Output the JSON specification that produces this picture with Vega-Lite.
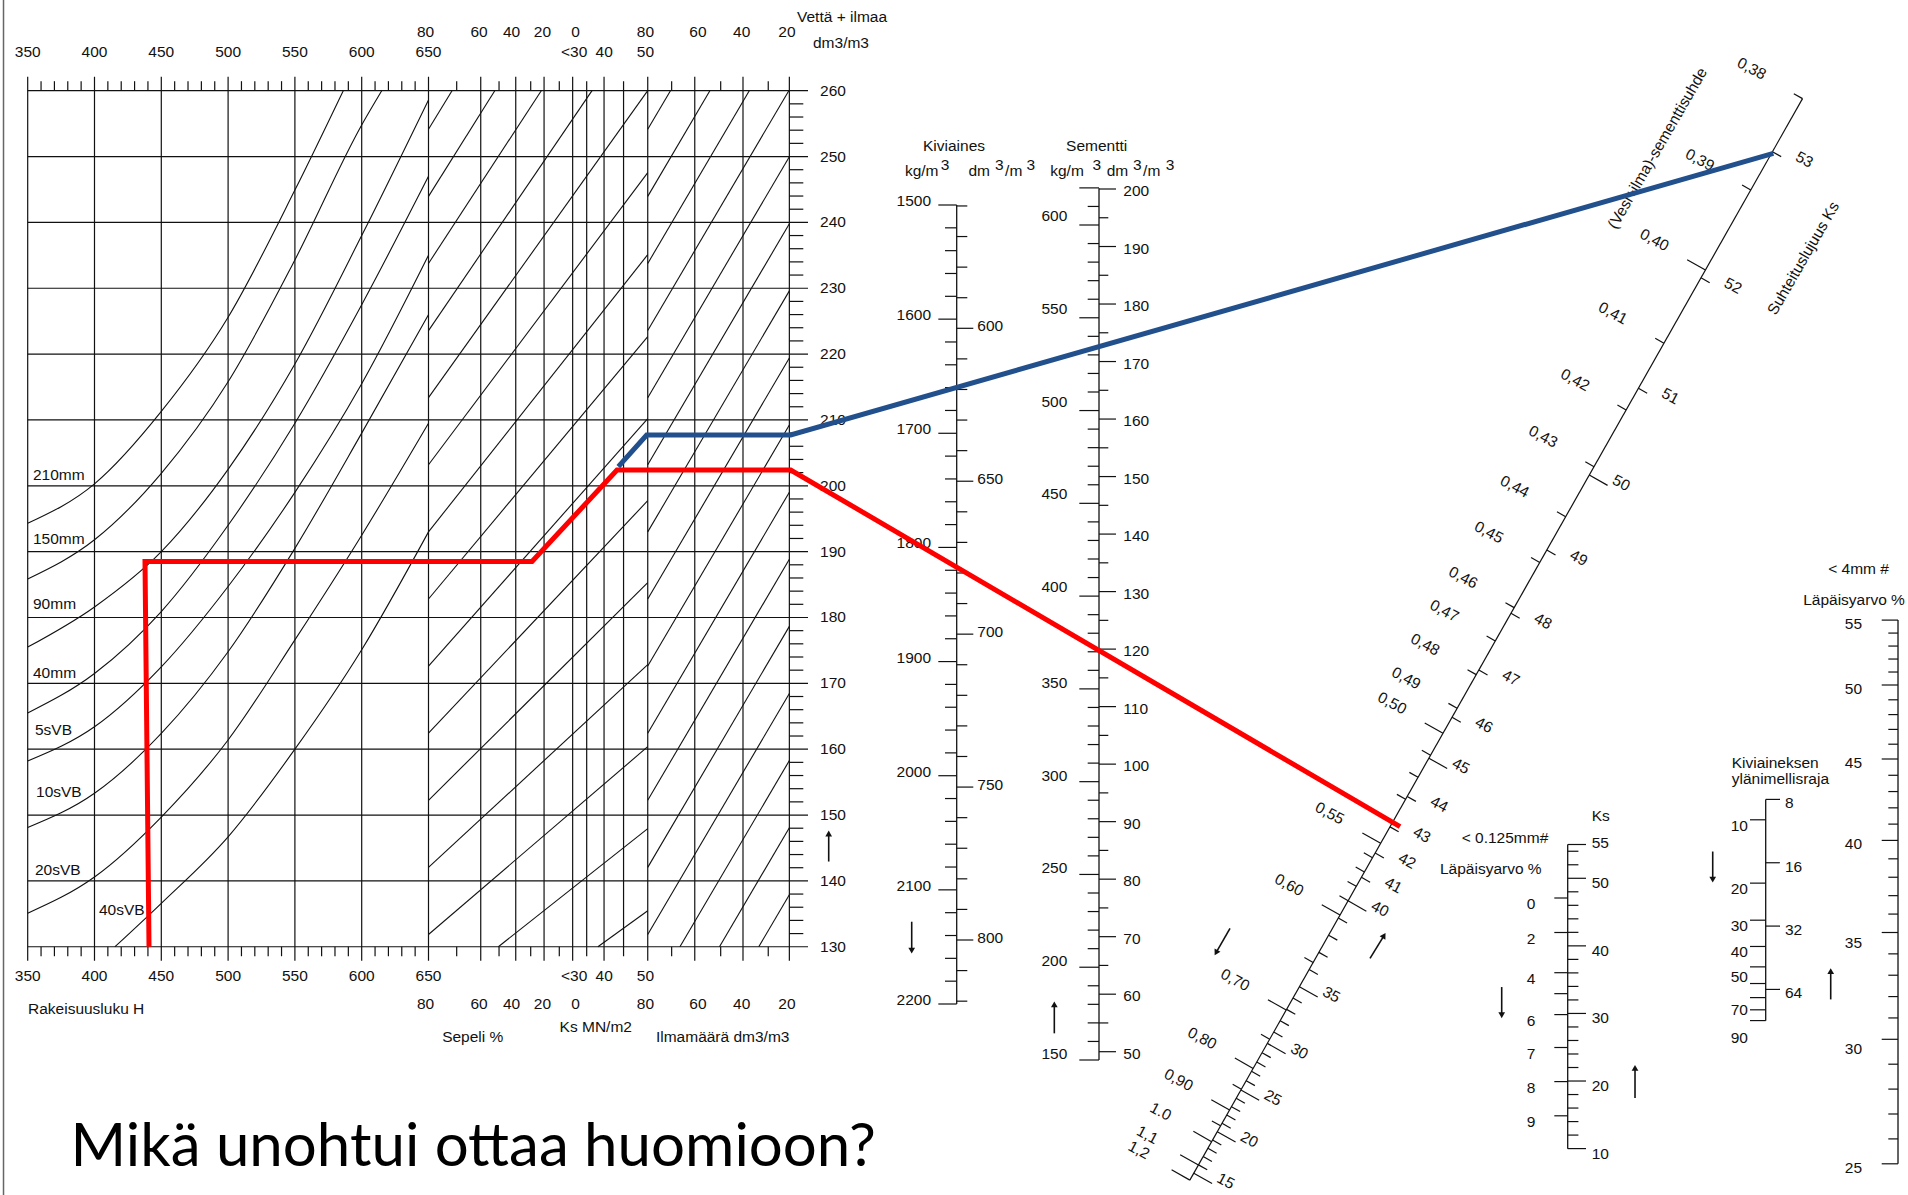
{
"$schema":"https://vega.github.io/schema/vega-lite/v6.json",
"width":1908,"height":1195,"autosize":{"type":"none"},"padding":0,"background":"white",
"config":{"view":{"stroke":null},"text":{"font":"Liberation Sans","fontSize":15.5,"fill":"#111"},"rule":{"color":"#111"},"line":{"color":"#111"}},
"resolve":{"scale":{"x":"independent","y":"independent"}},
"datasets":{
"vlong":[350,400,450,500,550,600,650,689.1,715.3,736.5,757.9,781.4,814.1,849.3,885.4,920.1],
"vmid":[768.4,796],
"hmin":[360,370,380,390,410,420,430,440,460,470,480,490,510,520,530,540,560,570,580,590,610,620,630,640,671.1,702.8,726.5,747.9,832,868.7,904.3],
"wgrid":[130,140,150,160,170,180,190,200,210,220,230,240,250,260],
"wmin":[132,134,136,138,142,144,146,148,152,154,156,158,162,164,166,168,172,174,176,178,182,184,186,188,192,194,196,198,202,204,206,208,212,214,216,218,222,224,226,228,232,234,236,238,242,244,246,248,252,254,256,258],
"curves":[
{"c":1,"h":350,"w":194.3},{"c":1,"h":400,"w":200.3},{"c":1,"h":450,"w":211.3},{"c":1,"h":500,"w":225.6},{"c":1,"h":550,"w":244.9},{"c":1,"h":586.2,"w":260},
{"c":2,"h":350,"w":185.85},{"c":2,"h":400,"w":191.8},{"c":2,"h":450,"w":201.9},{"c":2,"h":500,"w":215.8},{"c":2,"h":550,"w":234.3},{"c":2,"h":600,"w":254.8},{"c":2,"h":615,"w":260},
{"c":3,"h":350,"w":175.5},{"c":3,"h":400,"w":181.6},{"c":3,"h":450,"w":190},{"c":3,"h":500,"w":202.5},{"c":3,"h":550,"w":218.5},{"c":3,"h":600,"w":238},{"c":3,"h":650,"w":258.6},
{"c":4,"h":350,"w":165.5},{"c":4,"h":400,"w":171.5},{"c":4,"h":450,"w":180.9},{"c":4,"h":500,"w":194},{"c":4,"h":550,"w":209.5},{"c":4,"h":600,"w":227.5},{"c":4,"h":650,"w":247},
{"c":5,"h":350,"w":158.2},{"c":5,"h":400,"w":163.4},{"c":5,"h":450,"w":172.5},{"c":5,"h":500,"w":184.7},{"c":5,"h":550,"w":199},{"c":5,"h":600,"w":215.5},{"c":5,"h":650,"w":235},
{"c":6,"h":350,"w":148.1},{"c":6,"h":400,"w":153.3},{"c":6,"h":450,"w":162.4},{"c":6,"h":500,"w":174.8},{"c":6,"h":550,"w":190.5},{"c":6,"h":600,"w":208},{"c":6,"h":650,"w":226},
{"c":7,"h":350,"w":135.1},{"c":7,"h":400,"w":140.6},{"c":7,"h":450,"w":149.7},{"c":7,"h":500,"w":161.4},{"c":7,"h":550,"w":176.6},{"c":7,"h":600,"w":192.5},{"c":7,"h":650,"w":209.5},
{"c":8,"h":415.3,"w":130},{"c":8,"h":450,"w":136.6},{"c":8,"h":500,"w":146.7},{"c":8,"h":550,"w":160},{"c":8,"h":600,"w":175.1},{"c":8,"h":650,"w":193}],
"slants":[
{"h1":650,"w1":254.14,"h2":667.6,"w2":260},{"h1":650,"w1":243.95,"h2":699.6,"w2":260},{"h1":650,"w1":233.76,"h2":734.4,"w2":260},{"h1":650,"w1":223.57,"h2":772.4,"w2":260},{"h1":650,"w1":213.38,"h2":814.1,"w2":260},{"h1":650,"w1":203.19,"h2":814.1,"w2":247.55},{"h1":650,"w1":193,"h2":814.1,"w2":235.1},{"h1":650,"w1":182.81,"h2":814.1,"w2":222.64},{"h1":650,"w1":172.62,"h2":814.1,"w2":210.19},{"h1":650,"w1":162.43,"h2":814.1,"w2":197.74},{"h1":650,"w1":152.24,"h2":814.1,"w2":185.28},{"h1":650,"w1":142.05,"h2":814.1,"w2":172.83},{"h1":650,"w1":131.86,"h2":814.1,"w2":160.38},{"h1":702.3,"w1":130,"h2":814.1,"w2":147.93},{"h1":776.8,"w1":130,"h2":814.1,"w2":135.47},
{"h1":814.1,"w1":254.14,"h2":831.1,"w2":260},{"h1":814.1,"w1":243.95,"h2":860.6,"w2":260},{"h1":814.1,"w1":233.76,"h2":890.1,"w2":260},{"h1":814.1,"w1":223.57,"h2":919.7,"w2":260},{"h1":814.1,"w1":213.38,"h2":920.1,"w2":249.98},{"h1":814.1,"w1":203.19,"h2":920.1,"w2":239.79},{"h1":814.1,"w1":193,"h2":920.1,"w2":229.6},{"h1":814.1,"w1":182.81,"h2":920.1,"w2":219.41},{"h1":814.1,"w1":172.62,"h2":920.1,"w2":209.22},{"h1":814.1,"w1":162.43,"h2":920.1,"w2":199.03},{"h1":814.1,"w1":152.24,"h2":920.1,"w2":188.84},{"h1":814.1,"w1":142.05,"h2":920.1,"w2":178.65},{"h1":814.1,"w1":131.86,"h2":920.1,"w2":168.46},{"h1":838.2,"w1":130,"h2":920.1,"w2":158.27},{"h1":867.8,"w1":130,"h2":920.1,"w2":148.08},{"h1":897.2,"w1":130,"h2":920.1,"w2":137.89}],
"axl":[{"h":1045.36,"w1":242.64,"w2":121.3},{"h":1151.87,"w1":245.17,"w2":112.8},{"h":1502.69,"w1":145.52,"w2":99.34},{"h":1650.89,"w1":152.37,"w2":118.78},{"h":1749.92,"w1":179.6,"w2":97.04}],
"kivkg":[1500,1520,1540,1560,1580,1600,1620,1640,1660,1680,1700,1720,1740,1760,1780,1800,1820,1840,1860,1880,1900,1920,1940,1960,1980,2000,2020,2040,2060,2080,2100,2120,2140,2160,2180,2200],
"kivdm":[560,570,580,590,600,610,620,630,640,650,660,670,680,690,700,710,720,730,740,750,760,770,780,790,800,810,820],
"semkg":[150,160,170,180,190,200,210,220,230,240,250,260,270,280,290,300,310,320,330,340,350,360,370,380,390,400,410,420,430,440,450,460,470,480,490,500,510,520,530,540,550,560,570,580,590,600,610,620],
"semdm":[50,55,60,65,70,75,80,85,90,95,100,105,110,115,120,125,130,135,140,145,150,155,160,165,170,175,180,185,190,195,200],
"sks":[10,12,14,16,18,20,22,24,26,28,30,32,34,36,38,40,42,44,46,48,50,52,54,55],
"lp":[0,2,4,5,6,7,8,9],
"yl":[{"v":10,"s":"L"},{"v":20,"s":"L"},{"v":30,"s":"L"},{"v":40,"s":"L"},{"v":50,"s":"L"},{"v":60,"s":"L"},{"v":70,"s":"L"},{"v":80,"s":"L"},{"v":90,"s":"L"},{"v":8,"s":"R"},{"v":16,"s":"R"},{"v":32,"s":"R"},{"v":64,"s":"R"}],
"p4":[25,26,27,28,29,30,31,32,33,34,35,36,37,38,39,40,41,42,43,44,45,46,47,48,49,50,51,52,53,54,55],
"dks":[15,16,17,18,19,20,21,22,23,24,25,26,27,28,29,30,31,32,33,34,35,36,37,38,39,40,41,42,43,44,45,46,47,48,49,50,51,52,53],
"dwc":[{"v":0.38,"lab":"0,38"},{"v":0.39,"lab":"0,39"},{"v":0.4,"lab":"0,40"},{"v":0.41,"lab":"0,41"},{"v":0.42,"lab":"0,42"},{"v":0.43,"lab":"0,43"},{"v":0.44,"lab":"0,44"},{"v":0.45,"lab":"0,45"},{"v":0.46,"lab":"0,46"},{"v":0.47,"lab":"0,47"},{"v":0.48,"lab":"0,48"},{"v":0.49,"lab":"0,49"},{"v":0.5,"lab":"0,50"},{"v":0.51},{"v":0.52},{"v":0.53},{"v":0.54},{"v":0.55,"lab":"0,55"},{"v":0.56},{"v":0.57},{"v":0.58},{"v":0.59},{"v":0.6,"lab":"0,60"},{"v":0.65},{"v":0.7,"lab":"0,70"},{"v":0.75},{"v":0.8,"lab":"0,80"},{"v":0.85},{"v":0.9,"lab":"0,90"},{"v":0.95},{"v":1,"lab":"1.0"},{"v":1.1,"lab":"1,1"},{"v":1.2,"lab":"1,2"}],
"labc":[
{"h":350,"w":265.85,"t":"350"},{"h":400,"w":265.85,"t":"400"},{"h":450,"w":265.85,"t":"450"},{"h":500,"w":265.85,"t":"500"},{"h":550,"w":265.85,"t":"550"},{"h":600,"w":265.85,"t":"600"},{"h":650,"w":265.85,"t":"650"},{"h":759,"w":265.85,"t":"<30"},{"h":781.5,"w":265.85,"t":"40"},{"h":812.4,"w":265.85,"t":"50"},
{"h":647.8,"w":268.95,"t":"80"},{"h":687.8,"w":268.95,"t":"60"},{"h":712.2,"w":268.95,"t":"40"},{"h":735.3,"w":268.95,"t":"20"},{"h":760,"w":268.95,"t":"0"},{"h":812.4,"w":268.95,"t":"80"},{"h":851.7,"w":268.95,"t":"60"},{"h":884.4,"w":268.95,"t":"40"},{"h":918.3,"w":268.95,"t":"20"},
{"h":350,"w":125.57,"t":"350"},{"h":400,"w":125.57,"t":"400"},{"h":450,"w":125.57,"t":"450"},{"h":500,"w":125.57,"t":"500"},{"h":550,"w":125.57,"t":"550"},{"h":600,"w":125.57,"t":"600"},{"h":650,"w":125.57,"t":"650"},{"h":759,"w":125.57,"t":"<30"},{"h":781.5,"w":125.57,"t":"40"},{"h":812.4,"w":125.57,"t":"50"},
{"h":647.8,"w":121.31,"t":"80"},{"h":687.8,"w":121.31,"t":"60"},{"h":712.2,"w":121.31,"t":"40"},{"h":735.3,"w":121.31,"t":"20"},{"h":760,"w":121.31,"t":"0"},{"h":812.4,"w":121.31,"t":"80"},{"h":851.7,"w":121.31,"t":"60"},{"h":884.4,"w":121.31,"t":"40"},{"h":918.3,"w":121.31,"t":"20"},
{"h":683.1,"w":116.34,"t":"Sepeli %"},{"h":775.2,"w":117.86,"t":"Ks MN/m2"},{"h":870.2,"w":116.34,"t":"Ilmamäärä dm3/m3"},
{"h":1043.33,"w":251.6,"t":"Kiviaines"},{"h":1150.14,"w":251.6,"t":"Sementti"},
{"h":1019.16,"w":247.85,"t":"kg/m"},{"h":1062.2,"w":247.85,"t":"dm"},{"h":1088.02,"w":247.85,"t":"/m"},{"h":1127.92,"w":247.85,"t":"kg/m"},{"h":1165.72,"w":247.85,"t":"dm"},{"h":1191.32,"w":247.85,"t":"/m"},
{"h":1036.6,"w":248.71,"t":"3"},{"h":1077.25,"w":248.71,"t":"3"},{"h":1100.75,"w":248.71,"t":"3"},{"h":1150.15,"w":248.71,"t":"3"},{"h":1180.54,"w":248.71,"t":"3"},{"h":1205.02,"w":248.71,"t":"3"},
{"h":1527.39,"w":149.78,"t":"Ks"},{"h":1455.76,"w":146.47,"t":"< 0.125mm#"},{"h":1445.13,"w":141.77,"t":"Läpäisyarvo %"},{"h":1720.36,"w":187.29,"t":"< 4mm #"},{"h":1716.99,"w":182.65,"t":"Läpäisyarvo %"}],
"labl":[
{"h":353.97,"w":201.64,"t":"210mm"},{"h":353.97,"w":191.87,"t":"150mm"},{"h":353.97,"w":182,"t":"90mm"},{"h":353.97,"w":171.61,"t":"40mm"},{"h":355.47,"w":162.91,"t":"5sVB"},{"h":356.22,"w":153.54,"t":"10sVB"},{"h":355.47,"w":141.65,"t":"20sVB"},{"h":403.37,"w":135.58,"t":"40sVB"},
{"h":350.23,"w":120.54,"t":"Rakeisuusluku H"},{"h":925.82,"w":271.19,"t":"Vettä + ilmaa"},{"h":937.8,"w":267.24,"t":"dm3/m3"},
{"h":943.05,"w":260,"t":"260"},{"h":943.05,"w":250,"t":"250"},{"h":943.05,"w":240,"t":"240"},{"h":943.05,"w":230,"t":"230"},{"h":943.05,"w":220,"t":"220"},{"h":943.05,"w":210,"t":"210"},{"h":943.05,"w":200,"t":"200"},{"h":943.05,"w":190,"t":"190"},{"h":943.05,"w":180,"t":"180"},{"h":943.05,"w":170,"t":"170"},{"h":943.05,"w":160,"t":"160"},{"h":943.05,"w":150,"t":"150"},{"h":943.05,"w":140,"t":"140"},{"h":943.05,"w":130,"t":"130"},
{"h":1625.45,"w":157.89,"t":"Kiviaineksen"},{"h":1625.45,"w":155.52,"t":"ylänimellisraja"}],
"rot":[{"h":1569.91,"w":251.25,"t":"(Vesi+ilma)-sementtisuhde"},{"h":1679.04,"w":234.54,"t":"Suhteituslujuus Ks"}],
"arrows":[{"h1":1011.68,"w1":133.8,"h2":1011.68,"w2":129.4,"a":180},{"h1":1118.42,"w1":116.85,"h2":1118.42,"w2":121.25,"a":0},{"h1":949.55,"w1":142.94,"h2":949.55,"w2":147.2,"a":0},{"h1":1453.29,"w1":123.88,"h2":1453.29,"w2":119.6,"a":180},{"h1":1553.07,"w1":107.03,"h2":1553.07,"w2":111.6,"a":0},{"h1":1611.23,"w1":144.46,"h2":1611.23,"w2":140.2,"a":180},{"h1":1699.55,"w1":122,"h2":1699.55,"w2":126.3,"a":0},{"h1":1249.93,"w1":132.8,"h2":1239.5,"w2":129.1,"a":209},{"h1":1354.72,"w1":128.24,"h2":1365.2,"w2":131.7,"a":31}],
"red":[{"o":1,"h":440.8,"w":130},{"o":2,"h":437.8,"w":188.5},{"o":3,"h":727.5,"w":188.5},{"o":4,"h":791.1,"w":202.4},{"o":5,"h":921.1,"w":202.4},{"o":6,"h":1377.2,"w":148.23}],
"blue":[{"o":1,"h":792.1,"w":202.9},{"o":2,"h":813.3,"w":207.71},{"o":3,"h":921.1,"w":207.71},{"o":4,"h":1656.6,"w":250.49}],
"title":[{"h":382.11,"w":96.7,"t":"Mikä unohtui ottaa huomioon?"}]
},
"layer":[
{"data":{"values":[{}]},"mark":{"type":"rule","strokeWidth":1.5,"color":"#666"},"encoding":{"x":{"datum":331.9,"type":"quantitative","scale":{"domain":[329.27,1757.4],"nice":false,"zero":false},"axis":null}}},
{"data":{"name":"vlong"},"mark":{"type":"rule","strokeWidth":1.2},"encoding":{"x":{"field":"data","type":"quantitative","scale":{"domain":[329.27,1757.4],"nice":false,"zero":false},"axis":null},"y":{"datum":127.87,"type":"quantitative","scale":{"domain":[92.3,273.77],"nice":false,"zero":false},"axis":null},"y2":{"datum":262.13}}},
{"data":{"name":"vmid"},"mark":{"type":"rule","strokeWidth":1.2},"encoding":{"x":{"field":"data","type":"quantitative","scale":{"domain":[329.27,1757.4],"nice":false,"zero":false},"axis":null},"y":{"datum":128.56,"type":"quantitative","scale":{"domain":[92.3,273.77],"nice":false,"zero":false},"axis":null},"y2":{"datum":261.44}}},
{"data":{"name":"hmin"},"mark":{"type":"rule","strokeWidth":1.2},"encoding":{"x":{"field":"data","type":"quantitative","scale":{"domain":[329.27,1757.4],"nice":false,"zero":false},"axis":null},"y":{"datum":260,"type":"quantitative","scale":{"domain":[92.3,273.77],"nice":false,"zero":false},"axis":null},"y2":{"datum":261.44}}},
{"data":{"name":"hmin"},"mark":{"type":"rule","strokeWidth":1.2},"encoding":{"x":{"field":"data","type":"quantitative","scale":{"domain":[329.27,1757.4],"nice":false,"zero":false},"axis":null},"y":{"datum":128.56,"type":"quantitative","scale":{"domain":[92.3,273.77],"nice":false,"zero":false},"axis":null},"y2":{"datum":130}}},
{"data":{"name":"wgrid"},"mark":{"type":"rule","strokeWidth":1.2},"encoding":{"y":{"field":"data","type":"quantitative","scale":{"domain":[92.3,273.77],"nice":false,"zero":false},"axis":null},"x":{"datum":350,"type":"quantitative","scale":{"domain":[329.27,1757.4],"nice":false,"zero":false},"axis":null},"x2":{"datum":934.05}}},
{"data":{"name":"wmin"},"mark":{"type":"rule","strokeWidth":1.2},"encoding":{"y":{"field":"data","type":"quantitative","scale":{"domain":[92.3,273.77],"nice":false,"zero":false},"axis":null},"x":{"datum":920.1,"type":"quantitative","scale":{"domain":[329.27,1757.4],"nice":false,"zero":false},"axis":null},"x2":{"datum":930.54}}},
{"data":{"name":"slants"},"mark":{"type":"rule","strokeWidth":1.1},"encoding":{"x":{"field":"h1","type":"quantitative","scale":{"domain":[329.27,1757.4],"nice":false,"zero":false},"axis":null},"y":{"field":"w1","type":"quantitative","scale":{"domain":[92.3,273.77],"nice":false,"zero":false},"axis":null},"x2":{"field":"h2"},"y2":{"field":"w2"}}},
{"data":{"name":"curves"},"mark":{"type":"line","strokeWidth":1.1,"interpolate":"monotone"},"encoding":{"x":{"field":"h","type":"quantitative","scale":{"domain":[329.27,1757.4],"nice":false,"zero":false},"axis":null},"y":{"field":"w","type":"quantitative","scale":{"domain":[92.3,273.77],"nice":false,"zero":false},"axis":null},"detail":{"field":"c","type":"nominal"}}},
{"data":{"name":"axl"},"mark":{"type":"rule","strokeWidth":1.3},"encoding":{"x":{"field":"h","type":"quantitative","scale":{"domain":[329.27,1757.4],"nice":false,"zero":false},"axis":null},"y":{"field":"w1","type":"quantitative","scale":{"domain":[92.3,273.77],"nice":false,"zero":false},"axis":null},"y2":{"field":"w2"}}},

{"data":{"name":"kivkg"},"transform":[{"filter":"datum.data % 100 == 0"}],"mark":{"type":"rule","strokeWidth":1.2},"encoding":{"y":{"field":"data","type":"quantitative","scale":{"domain":[1500,2200],"range":[205,1004],"nice":false,"zero":false},"axis":null},"x":{"datum":1031.59,"type":"quantitative","scale":{"domain":[329.27,1757.4],"nice":false,"zero":false},"axis":null},"x2":{"datum":1045.36}}},
{"data":{"name":"kivkg"},"transform":[{"filter":"datum.data % 100 != 0"}],"mark":{"type":"rule","strokeWidth":1.2},"encoding":{"y":{"field":"data","type":"quantitative","scale":{"domain":[1500,2200],"range":[205,1004],"nice":false,"zero":false},"axis":null},"x":{"datum":1036.6,"type":"quantitative","scale":{"domain":[329.27,1757.4],"nice":false,"zero":false},"axis":null},"x2":{"datum":1045.36}}},
{"data":{"name":"kivkg"},"transform":[{"filter":"datum.data % 100 == 0"}],"mark":{"type":"text","align":"right","baseline":"middle","dy":-4},"encoding":{"y":{"field":"data","type":"quantitative","scale":{"domain":[1500,2200],"range":[205,1004],"nice":false,"zero":false},"axis":null},"x":{"datum":1026.14,"type":"quantitative","scale":{"domain":[329.27,1757.4],"nice":false,"zero":false},"axis":null},"text":{"field":"data","type":"nominal"}}},
{"data":{"name":"kivdm"},"transform":[{"filter":"datum.data % 50 == 0"}],"mark":{"type":"rule","strokeWidth":1.2},"encoding":{"y":{"field":"data","type":"quantitative","scale":{"domain":[600,800],"range":[328.3,940],"nice":false,"zero":false},"axis":null},"x":{"datum":1045.36,"type":"quantitative","scale":{"domain":[329.27,1757.4],"nice":false,"zero":false},"axis":null},"x2":{"datum":1057.78}}},
{"data":{"name":"kivdm"},"transform":[{"filter":"datum.data % 50 != 0"}],"mark":{"type":"rule","strokeWidth":1.2},"encoding":{"y":{"field":"data","type":"quantitative","scale":{"domain":[600,800],"range":[328.3,940],"nice":false,"zero":false},"axis":null},"x":{"datum":1045.36,"type":"quantitative","scale":{"domain":[329.27,1757.4],"nice":false,"zero":false},"axis":null},"x2":{"datum":1053.29}}},
{"data":{"name":"kivdm"},"transform":[{"filter":"datum.data % 50 == 0"}],"mark":{"type":"text","align":"left","baseline":"middle","dy":-2},"encoding":{"y":{"field":"data","type":"quantitative","scale":{"domain":[600,800],"range":[328.3,940],"nice":false,"zero":false},"axis":null},"x":{"datum":1060.79,"type":"quantitative","scale":{"domain":[329.27,1757.4],"nice":false,"zero":false},"axis":null},"text":{"field":"data","type":"nominal"}}},
{"data":{"name":"semkg"},"transform":[{"filter":"datum.data % 50 == 0 || datum.data == 620"}],"mark":{"type":"rule","strokeWidth":1.2},"encoding":{"y":{"field":"data","type":"quantitative","scale":{"domain":[150,600],"range":[1060,225],"nice":false,"zero":false},"axis":null},"x":{"datum":1137.13,"type":"quantitative","scale":{"domain":[329.27,1757.4],"nice":false,"zero":false},"axis":null},"x2":{"datum":1151.87}}},
{"data":{"name":"semkg"},"transform":[{"filter":"datum.data % 50 != 0 && datum.data != 620"}],"mark":{"type":"rule","strokeWidth":1.2},"encoding":{"y":{"field":"data","type":"quantitative","scale":{"domain":[150,600],"range":[1060,225],"nice":false,"zero":false},"axis":null},"x":{"datum":1143.41,"type":"quantitative","scale":{"domain":[329.27,1757.4],"nice":false,"zero":false},"axis":null},"x2":{"datum":1151.87}}},
{"data":{"name":"semkg"},"transform":[{"filter":"datum.data % 50 == 0 && datum.data >= 400"}],"mark":{"type":"text","align":"right","baseline":"middle","dy":-9},"encoding":{"y":{"field":"data","type":"quantitative","scale":{"domain":[150,600],"range":[1060,225],"nice":false,"zero":false},"axis":null},"x":{"datum":1128.14,"type":"quantitative","scale":{"domain":[329.27,1757.4],"nice":false,"zero":false},"axis":null},"text":{"field":"data","type":"nominal"}}},
{"data":{"name":"semkg"},"transform":[{"filter":"datum.data % 50 == 0 && datum.data < 400"}],"mark":{"type":"text","align":"right","baseline":"middle","dy":-6},"encoding":{"y":{"field":"data","type":"quantitative","scale":{"domain":[150,600],"range":[1060,225],"nice":false,"zero":false},"axis":null},"x":{"datum":1128.14,"type":"quantitative","scale":{"domain":[329.27,1757.4],"nice":false,"zero":false},"axis":null},"text":{"field":"data","type":"nominal"}}},
{"data":{"name":"semdm"},"transform":[{"filter":"datum.data % 10 == 0"}],"mark":{"type":"rule","strokeWidth":1.2},"encoding":{"y":{"field":"data","type":"quantitative","scale":{"domain":[50,200],"range":[1051.7,189],"nice":false,"zero":false},"axis":null},"x":{"datum":1151.87,"type":"quantitative","scale":{"domain":[329.27,1757.4],"nice":false,"zero":false},"axis":null},"x2":{"datum":1164.59}}},
{"data":{"name":"semdm"},"transform":[{"filter":"datum.data % 10 != 0"}],"mark":{"type":"rule","strokeWidth":1.2},"encoding":{"y":{"field":"data","type":"quantitative","scale":{"domain":[50,200],"range":[1051.7,189],"nice":false,"zero":false},"axis":null},"x":{"datum":1151.87,"type":"quantitative","scale":{"domain":[329.27,1757.4],"nice":false,"zero":false},"axis":null},"x2":{"datum":1158.83}}},
{"data":{"name":"semdm"},"transform":[{"filter":"datum.data % 10 == 0"}],"mark":{"type":"text","align":"left","baseline":"middle","dy":2},"encoding":{"y":{"field":"data","type":"quantitative","scale":{"domain":[50,200],"range":[1051.7,189],"nice":false,"zero":false},"axis":null},"x":{"datum":1170.06,"type":"quantitative","scale":{"domain":[329.27,1757.4],"nice":false,"zero":false},"axis":null},"text":{"field":"data","type":"nominal"}}},

{"data":{"name":"sks"},"transform":[{"filter":"datum.data % 10 == 0 || datum.data == 55"}],"mark":{"type":"rule","strokeWidth":1.2},"encoding":{"y":{"field":"data","type":"quantitative","scale":{"domain":[10,55],"range":[1148.6,844.5],"nice":false,"zero":false},"axis":null},"x":{"datum":1502.69,"type":"quantitative","scale":{"domain":[329.27,1757.4],"nice":false,"zero":false},"axis":null},"x2":{"datum":1516.39}}},
{"data":{"name":"sks"},"transform":[{"filter":"datum.data % 10 != 0 && datum.data != 55"}],"mark":{"type":"rule","strokeWidth":1.2},"encoding":{"y":{"field":"data","type":"quantitative","scale":{"domain":[10,55],"range":[1148.6,844.5],"nice":false,"zero":false},"axis":null},"x":{"datum":1502.69,"type":"quantitative","scale":{"domain":[329.27,1757.4],"nice":false,"zero":false},"axis":null},"x2":{"datum":1510.7}}},
{"data":{"name":"sks"},"transform":[{"filter":"datum.data % 10 == 0"}],"mark":{"type":"text","align":"left","baseline":"middle","dy":5},"encoding":{"y":{"field":"data","type":"quantitative","scale":{"domain":[10,55],"range":[1148.6,844.5],"nice":false,"zero":false},"axis":null},"x":{"datum":1520.65,"type":"quantitative","scale":{"domain":[329.27,1757.4],"nice":false,"zero":false},"axis":null},"text":{"field":"data","type":"nominal"}}},
{"data":{"name":"sks"},"transform":[{"filter":"datum.data == 55"}],"mark":{"type":"text","align":"left","baseline":"middle","dy":-2},"encoding":{"y":{"field":"data","type":"quantitative","scale":{"domain":[10,55],"range":[1148.6,844.5],"nice":false,"zero":false},"axis":null},"x":{"datum":1520.65,"type":"quantitative","scale":{"domain":[329.27,1757.4],"nice":false,"zero":false},"axis":null},"text":{"field":"data","type":"nominal"}}},
{"data":{"name":"lp"},"mark":{"type":"rule","strokeWidth":1.2},"encoding":{"y":{"field":"data","type":"quantitative","scale":{"domain":[0,2,4,6,7,8,9],"range":[898,932.5,972.7,1014.6,1047.5,1081.6,1115.8],"nice":false,"zero":false},"axis":null},"x":{"datum":1492.66,"type":"quantitative","scale":{"domain":[329.27,1757.4],"nice":false,"zero":false},"axis":null},"x2":{"datum":1502.69}}},
{"data":{"name":"lp"},"transform":[{"filter":"datum.data != 5"}],"mark":{"type":"text","align":"center","baseline":"middle","dy":6},"encoding":{"y":{"field":"data","type":"quantitative","scale":{"domain":[0,2,4,6,7,8,9],"range":[898,932.5,972.7,1014.6,1047.5,1081.6,1115.8],"nice":false,"zero":false},"axis":null},"x":{"datum":1475.22,"type":"quantitative","scale":{"domain":[329.27,1757.4],"nice":false,"zero":false},"axis":null},"text":{"field":"data","type":"nominal"}}},
{"data":{"name":"yl"},"transform":[{"filter":"datum.s == 'L'"}],"mark":{"type":"rule","strokeWidth":1.2},"encoding":{"y":{"field":"v","type":"quantitative","scale":{"type":"log","domain":[10,100],"range":[819.8,1030.2],"nice":false,"zero":false},"axis":null},"x":{"datum":1639.14,"type":"quantitative","scale":{"domain":[329.27,1757.4],"nice":false,"zero":false},"axis":null},"x2":{"datum":1650.89}}},
{"data":{"name":"yl"},"transform":[{"filter":"datum.s == 'R'"}],"mark":{"type":"rule","strokeWidth":1.2},"encoding":{"y":{"field":"v","type":"quantitative","scale":{"type":"log","domain":[10,100],"range":[819.8,1030.2],"nice":false,"zero":false},"axis":null},"x":{"datum":1650.89,"type":"quantitative","scale":{"domain":[329.27,1757.4],"nice":false,"zero":false},"axis":null},"x2":{"datum":1661.59}}},
{"data":{"name":"yl"},"transform":[{"filter":"datum.s == 'L' && datum.v <= 40"}],"mark":{"type":"text","align":"right","baseline":"middle","dy":6},"encoding":{"y":{"field":"v","type":"quantitative","scale":{"type":"log","domain":[10,100],"range":[819.8,1030.2],"nice":false,"zero":false},"axis":null},"x":{"datum":1637.64,"type":"quantitative","scale":{"domain":[329.27,1757.4],"nice":false,"zero":false},"axis":null},"text":{"field":"v","type":"nominal"}}},
{"data":{"name":"yl"},"transform":[{"filter":"datum.s == 'L' && datum.v == 50"}],"mark":{"type":"text","align":"right","baseline":"middle","dy":10},"encoding":{"y":{"field":"v","type":"quantitative","scale":{"type":"log","domain":[10,100],"range":[819.8,1030.2],"nice":false,"zero":false},"axis":null},"x":{"datum":1637.64,"type":"quantitative","scale":{"domain":[329.27,1757.4],"nice":false,"zero":false},"axis":null},"text":{"field":"v","type":"nominal"}}},
{"data":{"name":"yl"},"transform":[{"filter":"datum.s == 'L' && datum.v == 70"}],"mark":{"type":"text","align":"right","baseline":"middle","dy":12.5},"encoding":{"y":{"field":"v","type":"quantitative","scale":{"type":"log","domain":[10,100],"range":[819.8,1030.2],"nice":false,"zero":false},"axis":null},"x":{"datum":1637.64,"type":"quantitative","scale":{"domain":[329.27,1757.4],"nice":false,"zero":false},"axis":null},"text":{"field":"v","type":"nominal"}}},
{"data":{"name":"yl"},"transform":[{"filter":"datum.s == 'L' && datum.v == 90"}],"mark":{"type":"text","align":"right","baseline":"middle","dy":17.5},"encoding":{"y":{"field":"v","type":"quantitative","scale":{"type":"log","domain":[10,100],"range":[819.8,1030.2],"nice":false,"zero":false},"axis":null},"x":{"datum":1637.64,"type":"quantitative","scale":{"domain":[329.27,1757.4],"nice":false,"zero":false},"axis":null},"text":{"field":"v","type":"nominal"}}},
{"data":{"name":"yl"},"transform":[{"filter":"datum.s == 'R'"}],"mark":{"type":"text","align":"left","baseline":"middle","dy":4},"encoding":{"y":{"field":"v","type":"quantitative","scale":{"type":"log","domain":[10,100],"range":[819.8,1030.2],"nice":false,"zero":false},"axis":null},"x":{"datum":1665.3,"type":"quantitative","scale":{"domain":[329.27,1757.4],"nice":false,"zero":false},"axis":null},"text":{"field":"v","type":"nominal"}}},
{"data":{"name":"p4"},"transform":[{"filter":"datum.data % 5 == 0"}],"mark":{"type":"rule","strokeWidth":1.2},"encoding":{"y":{"field":"data","type":"quantitative","scale":{"domain":[25,30,35,40,45,50,55],"range":[1163.8,1039.3,932.5,840.4,759,685,620.1],"nice":false,"zero":false},"axis":null},"x":{"datum":1737.72,"type":"quantitative","scale":{"domain":[329.27,1757.4],"nice":false,"zero":false},"axis":null},"x2":{"datum":1749.92}}},
{"data":{"name":"p4"},"transform":[{"filter":"datum.data % 5 != 0"}],"mark":{"type":"rule","strokeWidth":1.2},"encoding":{"y":{"field":"data","type":"quantitative","scale":{"domain":[25,30,35,40,45,50,55],"range":[1163.8,1039.3,932.5,840.4,759,685,620.1],"nice":false,"zero":false},"axis":null},"x":{"datum":1742.66,"type":"quantitative","scale":{"domain":[329.27,1757.4],"nice":false,"zero":false},"axis":null},"x2":{"datum":1749.92}}},
{"data":{"name":"p4"},"transform":[{"filter":"datum.data % 5 == 0 && datum.data != 35 && datum.data != 30"}],"mark":{"type":"text","align":"right","baseline":"middle","dy":4},"encoding":{"y":{"field":"data","type":"quantitative","scale":{"domain":[25,30,35,40,45,50,55],"range":[1163.8,1039.3,932.5,840.4,759,685,620.1],"nice":false,"zero":false},"axis":null},"x":{"datum":1722.98,"type":"quantitative","scale":{"domain":[329.27,1757.4],"nice":false,"zero":false},"axis":null},"text":{"field":"data","type":"nominal"}}},
{"data":{"name":"p4"},"transform":[{"filter":"datum.data == 35 || datum.data == 30"}],"mark":{"type":"text","align":"right","baseline":"middle","dy":10},"encoding":{"y":{"field":"data","type":"quantitative","scale":{"domain":[25,30,35,40,45,50,55],"range":[1163.8,1039.3,932.5,840.4,759,685,620.1],"nice":false,"zero":false},"axis":null},"x":{"datum":1722.98,"type":"quantitative","scale":{"domain":[329.27,1757.4],"nice":false,"zero":false},"axis":null},"text":{"field":"data","type":"nominal"}}},

{"data":{"values":[{}]},"mark":{"type":"rule","strokeWidth":1.2},"encoding":{"x":{"datum":0.38,"type":"quantitative","scale":{"domain":[0.38,0.39,0.4,0.41,0.42,0.43,0.44,0.45,0.46,0.47,0.48,0.49,0.5,0.55,0.6,0.7,0.8,0.9,1,1.1,1.2],"range":[1802.52,1750.77,1705.42,1663.92,1626.11,1594.02,1565.68,1539.76,1514.17,1495.3,1476.22,1457.15,1443,1380.65,1340.03,1286.21,1253.14,1229.57,1211.63,1198.42,1189.85],"nice":false,"zero":false},"axis":null},"x2":{"datum":1.2},"y":{"datum":0.38,"type":"quantitative","scale":{"domain":[0.38,0.39,0.4,0.41,0.42,0.43,0.44,0.45,0.46,0.47,0.48,0.49,0.5,0.55,0.6,0.7,0.8,0.9,1,1.1,1.2],"range":[98.61,189.97,270.02,343.28,410.02,466.66,516.69,562.46,607.62,640.94,674.62,708.29,733.26,843.33,915.02,1010.04,1068.42,1110.01,1141.69,1165,1180.14],"nice":false,"zero":false},"axis":null},"y2":{"datum":1.2}}},
{"data":{"name":"dwc"},"transform":[{"filter":"!(datum.lab != null && (datum.v == 0.4 || datum.v >= 0.5))"}],"mark":{"type":"rule","strokeWidth":1.2,"x2Offset":-8.7,"y2Offset":-4.93},"encoding":{"x":{"field":"v","type":"quantitative","scale":{"domain":[0.38,0.39,0.4,0.41,0.42,0.43,0.44,0.45,0.46,0.47,0.48,0.49,0.5,0.55,0.6,0.7,0.8,0.9,1,1.1,1.2],"range":[1802.52,1750.77,1705.42,1663.92,1626.11,1594.02,1565.68,1539.76,1514.17,1495.3,1476.22,1457.15,1443,1380.65,1340.03,1286.21,1253.14,1229.57,1211.63,1198.42,1189.85],"nice":false,"zero":false},"axis":null},"x2":{"field":"v"},"y":{"field":"v","type":"quantitative","scale":{"domain":[0.38,0.39,0.4,0.41,0.42,0.43,0.44,0.45,0.46,0.47,0.48,0.49,0.5,0.55,0.6,0.7,0.8,0.9,1,1.1,1.2],"range":[98.61,189.97,270.02,343.28,410.02,466.66,516.69,562.46,607.62,640.94,674.62,708.29,733.26,843.33,915.02,1010.04,1068.42,1110.01,1141.69,1165,1180.14],"nice":false,"zero":false},"axis":null},"y2":{"field":"v"}}},
{"data":{"name":"dwc"},"transform":[{"filter":"datum.lab != null && (datum.v == 0.4 || datum.v >= 0.5)"}],"mark":{"type":"rule","strokeWidth":1.2,"x2Offset":-18.27,"y2Offset":-10.35},"encoding":{"x":{"field":"v","type":"quantitative","scale":{"domain":[0.38,0.39,0.4,0.41,0.42,0.43,0.44,0.45,0.46,0.47,0.48,0.49,0.5,0.55,0.6,0.7,0.8,0.9,1,1.1,1.2],"range":[1802.52,1750.77,1705.42,1663.92,1626.11,1594.02,1565.68,1539.76,1514.17,1495.3,1476.22,1457.15,1443,1380.65,1340.03,1286.21,1253.14,1229.57,1211.63,1198.42,1189.85],"nice":false,"zero":false},"axis":null},"x2":{"field":"v"},"y":{"field":"v","type":"quantitative","scale":{"domain":[0.38,0.39,0.4,0.41,0.42,0.43,0.44,0.45,0.46,0.47,0.48,0.49,0.5,0.55,0.6,0.7,0.8,0.9,1,1.1,1.2],"range":[98.61,189.97,270.02,343.28,410.02,466.66,516.69,562.46,607.62,640.94,674.62,708.29,733.26,843.33,915.02,1010.04,1068.42,1110.01,1141.69,1165,1180.14],"nice":false,"zero":false},"axis":null},"y2":{"field":"v"}}},
{"data":{"name":"dwc"},"transform":[{"filter":"datum.lab != null"}],"mark":{"type":"text","align":"center","baseline":"middle","angle":28,"dx":-59.1,"dy":-2.6},"encoding":{"x":{"field":"v","type":"quantitative","scale":{"domain":[0.38,0.39,0.4,0.41,0.42,0.43,0.44,0.45,0.46,0.47,0.48,0.49,0.5,0.55,0.6,0.7,0.8,0.9,1,1.1,1.2],"range":[1802.52,1750.77,1705.42,1663.92,1626.11,1594.02,1565.68,1539.76,1514.17,1495.3,1476.22,1457.15,1443,1380.65,1340.03,1286.21,1253.14,1229.57,1211.63,1198.42,1189.85],"nice":false,"zero":false},"axis":null},"y":{"field":"v","type":"quantitative","scale":{"domain":[0.38,0.39,0.4,0.41,0.42,0.43,0.44,0.45,0.46,0.47,0.48,0.49,0.5,0.55,0.6,0.7,0.8,0.9,1,1.1,1.2],"range":[98.61,189.97,270.02,343.28,410.02,466.66,516.69,562.46,607.62,640.94,674.62,708.29,733.26,843.33,915.02,1010.04,1068.42,1110.01,1141.69,1165,1180.14],"nice":false,"zero":false},"axis":null},"text":{"field":"lab","type":"nominal"}}},
{"data":{"name":"dks"},"transform":[{"filter":"datum.data % 5 != 0 || datum.data > 50"}],"mark":{"type":"rule","strokeWidth":1.2,"x2Offset":8.7,"y2Offset":4.93},"encoding":{"x":{"field":"data","type":"quantitative","scale":{"domain":[15,20,25,30,35,40,41,42,43,44,45,46,47,48,49,50,51,52,53],"range":[1193.8,1217.3,1240.91,1267.33,1299.42,1348.07,1361.38,1375.18,1389.96,1407.22,1428.9,1452.07,1478.83,1510.97,1546.81,1589.29,1638.44,1700.98,1772.45],"nice":false,"zero":false},"axis":null},"x2":{"field":"data"},"y":{"field":"data","type":"quantitative","scale":{"domain":[15,20,25,30,35,40,41,42,43,44,45,46,47,48,49,50,51,52,53],"range":[1173.2,1131.68,1090,1043.37,986.72,900.84,877.35,852.99,826.88,796.43,758.15,717.25,670,613.27,550.02,475.02,388.27,277.85,151.69],"nice":false,"zero":false},"axis":null},"y2":{"field":"data"}}},
{"data":{"name":"dks"},"transform":[{"filter":"datum.data % 5 == 0 && datum.data <= 50"}],"mark":{"type":"rule","strokeWidth":1.2,"x2Offset":18.27,"y2Offset":10.35},"encoding":{"x":{"field":"data","type":"quantitative","scale":{"domain":[15,20,25,30,35,40,41,42,43,44,45,46,47,48,49,50,51,52,53],"range":[1193.8,1217.3,1240.91,1267.33,1299.42,1348.07,1361.38,1375.18,1389.96,1407.22,1428.9,1452.07,1478.83,1510.97,1546.81,1589.29,1638.44,1700.98,1772.45],"nice":false,"zero":false},"axis":null},"x2":{"field":"data"},"y":{"field":"data","type":"quantitative","scale":{"domain":[15,20,25,30,35,40,41,42,43,44,45,46,47,48,49,50,51,52,53],"range":[1173.2,1131.68,1090,1043.37,986.72,900.84,877.35,852.99,826.88,796.43,758.15,717.25,670,613.27,550.02,475.02,388.27,277.85,151.69],"nice":false,"zero":false},"axis":null},"y2":{"field":"data"}}},
{"data":{"name":"dks"},"transform":[{"filter":"datum.data >= 40 || datum.data % 5 == 0"}],"mark":{"type":"text","align":"center","baseline":"middle","angle":28,"dx":32,"dy":-8},"encoding":{"x":{"field":"data","type":"quantitative","scale":{"domain":[15,20,25,30,35,40,41,42,43,44,45,46,47,48,49,50,51,52,53],"range":[1193.8,1217.3,1240.91,1267.33,1299.42,1348.07,1361.38,1375.18,1389.96,1407.22,1428.9,1452.07,1478.83,1510.97,1546.81,1589.29,1638.44,1700.98,1772.45],"nice":false,"zero":false},"axis":null},"y":{"field":"data","type":"quantitative","scale":{"domain":[15,20,25,30,35,40,41,42,43,44,45,46,47,48,49,50,51,52,53],"range":[1173.2,1131.68,1090,1043.37,986.72,900.84,877.35,852.99,826.88,796.43,758.15,717.25,670,613.27,550.02,475.02,388.27,277.85,151.69],"nice":false,"zero":false},"axis":null},"text":{"field":"data","type":"nominal"}}},

{"data":{"name":"labc"},"mark":{"type":"text","align":"center","baseline":"middle"},"encoding":{"x":{"field":"h","type":"quantitative","scale":{"domain":[329.27,1757.4],"nice":false,"zero":false},"axis":null},"y":{"field":"w","type":"quantitative","scale":{"domain":[92.3,273.77],"nice":false,"zero":false},"axis":null},"text":{"field":"t","type":"nominal"}}},
{"data":{"name":"labl"},"mark":{"type":"text","align":"left","baseline":"middle"},"encoding":{"x":{"field":"h","type":"quantitative","scale":{"domain":[329.27,1757.4],"nice":false,"zero":false},"axis":null},"y":{"field":"w","type":"quantitative","scale":{"domain":[92.3,273.77],"nice":false,"zero":false},"axis":null},"text":{"field":"t","type":"nominal"}}},
{"data":{"name":"rot"},"mark":{"type":"text","align":"center","baseline":"middle","angle":-60},"encoding":{"x":{"field":"h","type":"quantitative","scale":{"domain":[329.27,1757.4],"nice":false,"zero":false},"axis":null},"y":{"field":"w","type":"quantitative","scale":{"domain":[92.3,273.77],"nice":false,"zero":false},"axis":null},"text":{"field":"t","type":"nominal"}}},
{"data":{"name":"arrows"},"mark":{"type":"rule","strokeWidth":1.6},"encoding":{"x":{"field":"h1","type":"quantitative","scale":{"domain":[329.27,1757.4],"nice":false,"zero":false},"axis":null},"y":{"field":"w1","type":"quantitative","scale":{"domain":[92.3,273.77],"nice":false,"zero":false},"axis":null},"x2":{"field":"h2"},"y2":{"field":"w2"}}},
{"data":{"name":"arrows"},"mark":{"type":"point","shape":"triangle-up","filled":true,"size":45,"color":"#111","opacity":1},"encoding":{"x":{"field":"h2","type":"quantitative","scale":{"domain":[329.27,1757.4],"nice":false,"zero":false},"axis":null},"y":{"field":"w2","type":"quantitative","scale":{"domain":[92.3,273.77],"nice":false,"zero":false},"axis":null},"angle":{"field":"a","type":"quantitative","scale":null}}},
{"data":{"name":"red"},"mark":{"type":"line","color":"#ff0000","strokeWidth":5,"strokeJoin":"miter"},"encoding":{"x":{"field":"h","type":"quantitative","scale":{"domain":[329.27,1757.4],"nice":false,"zero":false},"axis":null},"y":{"field":"w","type":"quantitative","scale":{"domain":[92.3,273.77],"nice":false,"zero":false},"axis":null},"order":{"field":"o","type":"quantitative"}}},
{"data":{"name":"blue"},"mark":{"type":"line","color":"#22508c","strokeWidth":5,"strokeJoin":"miter"},"encoding":{"x":{"field":"h","type":"quantitative","scale":{"domain":[329.27,1757.4],"nice":false,"zero":false},"axis":null},"y":{"field":"w","type":"quantitative","scale":{"domain":[92.3,273.77],"nice":false,"zero":false},"axis":null},"order":{"field":"o","type":"quantitative"}}},
{"data":{"name":"title"},"mark":{"type":"text","align":"left","baseline":"alphabetic","font":"Lato","fontSize":60,"fill":"#000"},"encoding":{"x":{"field":"h","type":"quantitative","scale":{"domain":[329.27,1757.4],"nice":false,"zero":false},"axis":null},"y":{"field":"w","type":"quantitative","scale":{"domain":[92.3,273.77],"nice":false,"zero":false},"axis":null},"text":{"field":"t","type":"nominal"}}}
]
}
